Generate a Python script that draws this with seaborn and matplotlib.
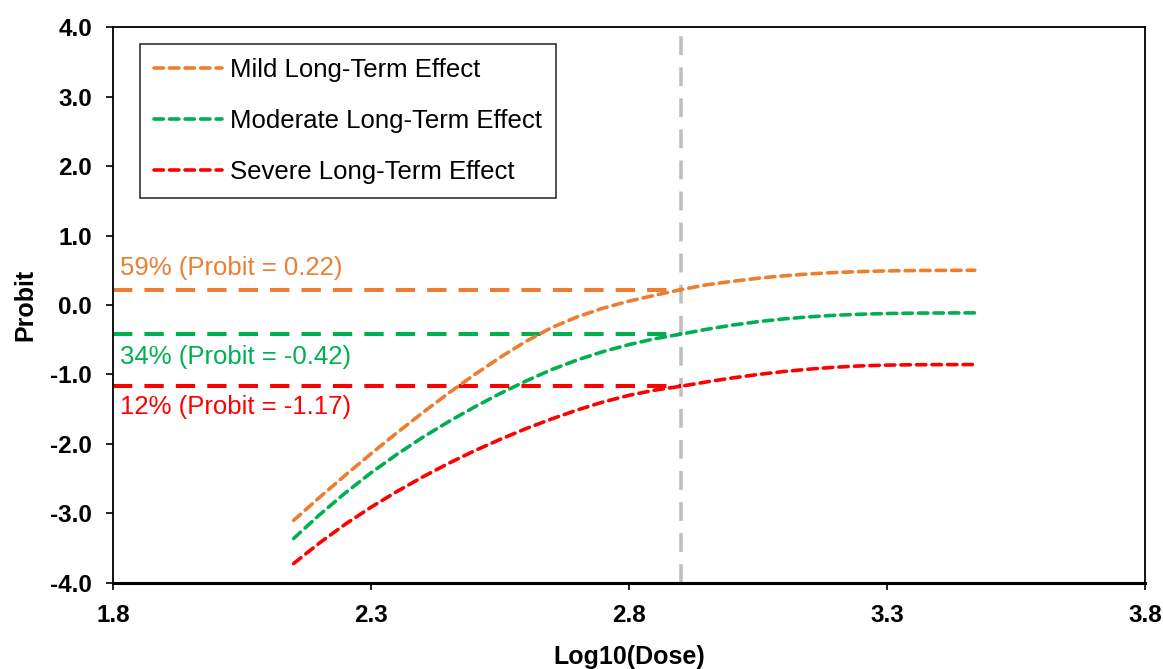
import matplotlib
matplotlib.use("Agg")
import matplotlib.pyplot as plt
import seaborn as sns
import pandas as pd

log_dose = [2.15, 2.20, 2.25, 2.30, 2.35, 2.40, 2.45, 2.50, 2.55, 2.60, 2.65, 2.70, 2.75,
            2.80, 2.85, 2.90, 2.95, 3.00, 3.05, 3.10, 3.15, 3.20, 3.25, 3.30, 3.35, 3.40, 3.47]
mild = [-3.10, -2.77, -2.45, -2.14, -1.84, -1.55, -1.27, -1.005, -0.755, -0.525, -0.325,
        -0.17, -0.045, 0.055, 0.14, 0.22, 0.29, 0.34, 0.385, 0.42, 0.4475, 0.4675, 0.4815,
        0.4905, 0.4955, 0.498, 0.50]
moderate = [-3.36, -3.02, -2.705, -2.415, -2.15, -1.905, -1.68, -1.47, -1.275, -1.095, -0.93,
            -0.79, -0.67, -0.57, -0.485, -0.42, -0.35, -0.29, -0.24, -0.20, -0.17, -0.1475,
            -0.1325, -0.1225, -0.1175, -0.115, -0.113]
severe = [-3.72, -3.425, -3.155, -2.91, -2.685, -2.475, -2.28, -2.10, -1.935, -1.78, -1.64,
          -1.51, -1.395, -1.30, -1.225, -1.17, -1.1075, -1.05, -1.00, -0.9575, -0.9225, -0.895,
          -0.876, -0.865, -0.86, -0.858, -0.857]

series_names = ["Mild Long-Term Effect", "Moderate Long-Term Effect", "Severe Long-Term Effect"]
colors = ["#ED7D31", "#00B050", "#FF0000"]
ref_dose = 2.9
ref_probits = [0.22, -0.42, -1.17]
ref_labels = ["59% (Probit = 0.22)", "34% (Probit = -0.42)", "12% (Probit = -1.17)"]
x_ticks = [1.8, 2.3, 2.8, 3.3, 3.8]
y_ticks = [-4, -3, -2, -1, 0, 1, 2, 3, 4]

sns.set_theme(style="white")
plt.rcParams['font.family'] = ['Liberation Sans', 'DejaVu Sans']

fig = plt.figure(figsize=(11.63, 6.69), dpi=100)
ax = fig.add_axes([0.0972, 0.1286, 0.8873, 0.8310])

# reference vertical line
ax.axvline(ref_dose, color="#BFBFBF", lw=2.6, dashes=(5.2, 3.4), zorder=1)

# horizontal reference lines
for p, c in zip(ref_probits, colors):
    ax.plot([1.8, ref_dose], [p, p], color=c, lw=2.9, dashes=(4.8, 3.0), zorder=2)

for name, vals, c in zip(series_names, [mild, moderate, severe], colors):
    df = pd.DataFrame({"x": log_dose, "y": vals})
    sns.lineplot(data=df, x="x", y="y", ax=ax, color=c, lw=2.6, label=name, zorder=3)
for line in ax.get_lines()[-3:]:
    line.set_dashes((2.6, 1.7))
    line.set_dash_capstyle("round")

# annotations
text_y = [0.53, -0.75, -1.47]
for ty, lab, c in zip(text_y, ref_labels, colors):
    ax.text(1.813, ty, lab, color=c, fontsize=18.5, va="center", ha="left")

ax.set_xlim(1.8, 3.8)
ax.set_ylim(-4, 4)
ax.set_xticks(x_ticks)
ax.set_yticks(y_ticks)
ax.set_xticklabels([f"{v:.1f}" for v in x_ticks])
ax.set_yticklabels([f"{v:.1f}" for v in y_ticks])
ax.tick_params(axis="both", direction="out", length=5, width=1.2, color="black",
               labelsize=17.5, pad=10, bottom=True, left=True, labelcolor="black")
for lab in ax.get_xticklabels() + ax.get_yticklabels():
    lab.set_fontweight("bold")
ax.set_xlabel("Log10(Dose)", fontsize=18, fontweight="bold", labelpad=13, color="black")
ax.set_ylabel("Probit", fontsize=18, fontweight="bold", labelpad=9, color="black")
for s in ax.spines.values():
    s.set_color("black")
    s.set_linewidth(1.3)
ax.spines["bottom"].set_linewidth(2.2)

leg = ax.legend(loc="upper left", bbox_to_anchor=(0.0262, 0.969), fontsize=18.5,
                frameon=True, fancybox=False, edgecolor="black", labelspacing=1.05,
                handlelength=2.65, handletextpad=0.3, borderpad=0.55, borderaxespad=0)
leg.get_frame().set_linewidth(1.2)
for t in leg.get_texts():
    t.set_color("black")
for h in leg.get_lines():
    h.set_dashes((2.6, 1.7))
    h.set_linewidth(2.6)

fig.savefig("out.png", dpi=100)
